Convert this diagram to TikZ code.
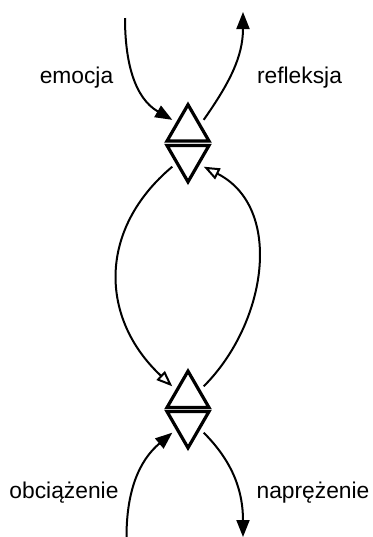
\documentclass[tikz,border=0pt]{standalone}
\usepackage{fontspec}
\setmainfont{Liberation Sans}
\usepackage{tikz}
\usetikzlibrary{arrows.meta,shapes.geometric}
\definecolor{ink}{HTML}{000000}
\tikzset{
  >=Triangle,
  triUp/.style={regular polygon,regular polygon sides=3,draw=ink,line width=1.6pt,
                minimum size=24.25pt,inner sep=0pt,outer sep=3pt,line join=miter},
  triDown/.style={triUp,regular polygon rotate=180},
  flow/.style={-{Triangle[length=8.5pt,width=6.5pt]},line width=1pt,ink},
  openFlow/.style={-{Triangle[open,length=8pt,width=6pt]},line width=1pt,ink},
  lbl/.style={font=\fontsize{11.4pt}{13pt}\selectfont,text=ink,anchor=base,inner sep=0pt},
}

\begin{document}
\begin{tikzpicture}[x=0.5pt,y=0.5pt]
\useasboundingbox (0,0) rectangle (373,-537);

% Upper and lower double-triangle valves.
\node[triUp]   (tA) at (188,-128.9) {};
\node[triDown] (tB) at (188,-157.6) {};
\node[triUp]   (bA) at (188,-395.4) {};
\node[triDown] (bB) at (188,-423.6) {};

\node[lbl] (emocja)     at (76.5,-83.3)  {emocja};
\node[lbl] (refleksja)  at (299.5,-83.3) {refleksja};
\node[lbl] (obciazenie) at (64,-498.3)   {obciążenie};
\node[lbl] (naprezenie) at (313,-498.3)  {naprężenie};

\coordinate (emIn)  at (125,-18);
\coordinate (reOut) at (243,-12);
\coordinate (obIn)  at (126.5,-537);
\coordinate (naOut) at (243,-537);

\draw[flow] (emIn) to[out=-90,in=150] (tA.side 1);
\draw[flow] (tA.side 3) to[out=55,in=-90] (reOut);

% The loop between the two valves.
\draw[openFlow] (tB.side 3) to[out=220,in=137,looseness=1.15] (bA.side 1);
\draw[openFlow] (bA.side 3) to[out=45,in=-27,looseness=1.05] (tB.side 1);

\draw[flow] (obIn) to[out=90,in=-140] (bB.side 3);
\draw[flow] (bB.side 1) to[out=-45,in=90] (naOut);

\end{tikzpicture}
\end{document}
